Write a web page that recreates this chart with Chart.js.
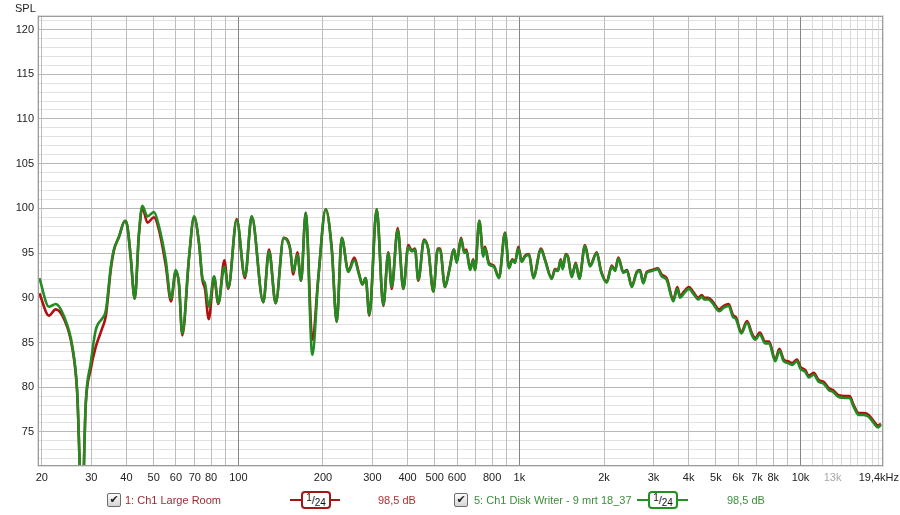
<!DOCTYPE html>
<html>
<head>
<meta charset="utf-8">
<title>SPL</title>
<script src="https://cdn.jsdelivr.net/npm/chart.js@4.4.1/dist/chart.umd.min.js"></script>
<style>
  html, body { margin: 0; padding: 0; background: #fff; }
  #wrap { position: relative; width: 900px; height: 515px; font-family: 'Liberation Sans', Arial, sans-serif; font-size: 11px; color: #222; }
  #chart { position: absolute; left: 0; top: 0; }
  .t { position: absolute; white-space: nowrap; line-height: 13px; }
  .chk { position: absolute; width: 12px; height: 12px; border: 1px solid #6d6d6d; border-radius: 2px;
         background: linear-gradient(#fdfdfd, #d4d4d4); font: bold 11px 'DejaVu Sans', sans-serif;
         line-height: 12px; text-align: center; color: #222; }
  .sym { position: absolute; height: 18px; }
  .sym .ln { position: absolute; left: 0; right: 0; top: 8px; height: 2px; }
  .sym .bx { position: absolute; top: 0; left: 11px; width: 26px; height: 14px; border: 2px solid; border-radius: 4px;
             background: #fff; color: #111; font-size: 11px; line-height: 14px; text-align: center; }
  .sym .bx span { position: relative; font-size: 10px; }
</style>
</head>
<body>
<div id="wrap">
  <canvas id="chart" width="900" height="515"></canvas>
  <div class="t" style="left:15px; top:2px;">SPL</div>

  <div class="chk" style="left:107px; top:493px;">✔</div>
  <div class="t" style="left:125px; top:494px; color:#a02a36;">1: Ch1 Large Room</div>
  <div class="sym" style="left:290px; top:491px; width:50px;">
    <div class="ln" style="background:#a01818;"></div>
    <div class="bx" style="border-color:#a01818;"><span style="top:-3px">1</span>/<span style="top:2px">24</span></div>
  </div>
  <div class="t" style="left:378px; top:494px; color:#b03030;">98,5 dB</div>

  <div class="chk" style="left:454px; top:493px;">✔</div>
  <div class="t" style="left:474px; top:494px; color:#3b8f3b;">5: Ch1 Disk Writer - 9 mrt 18_37</div>
  <div class="sym" style="left:637px; top:491px; width:51px;">
    <div class="ln" style="background:#239023;"></div>
    <div class="bx" style="border-color:#239023;"><span style="top:-3px">1</span>/<span style="top:2px">24</span></div>
  </div>
  <div class="t" style="left:727px; top:494px; color:#3b8f3b;">98,5 dB</div>
</div>

<script>
// frequency points (Hz)
const freqHz = [19.6, 21.2, 22.4, 24.0, 25.7, 26.7, 27.8, 28.65, 29.85, 31.1, 32.8, 33.8, 35.2, 36.1, 37.6, 39.5,
  40.3, 41.4, 42.8, 44.3, 45.55, 47.5, 50.1, 52.2, 55.2, 57.6, 59.9, 61.5, 63.2, 66.8, 69.6, 72.5, 74.5, 76.1, 78.5,
  82.0, 84.9, 89.2, 92.1, 98.7, 105.6, 111.6, 122.7, 128.6, 135.8, 145.0, 152.7, 156.9, 162.2, 167.2, 173.7, 183.4,
  192.6, 204.6, 214.9, 223.9, 233.3, 246.2, 258.6, 268.8, 276.1, 283.9, 292.4, 310.7, 328, 341.7, 351.3, 369, 386.4,
  402.5, 413.9, 425.2, 436.8, 457.7, 474.1, 494, 512.2, 521.9, 543.7, 561.8, 585.3, 598.4, 619.8, 636.8, 648, 667.3,
  685.5, 695, 720, 743.9, 754.3, 779.5, 810, 846.3, 888.8, 918.3, 943.6, 964.7, 991.1, 1019, 1047, 1082, 1121, 1194,
  1233, 1303, 1339, 1372, 1403, 1426, 1461, 1489, 1535, 1586, 1634, 1711, 1783, 1884, 1952, 2045, 2131, 2189, 2249,
  2342, 2414, 2509, 2614, 2685, 2759, 2837, 2963, 3105, 3208, 3342, 3528, 3645, 3727, 3851, 4012, 4146, 4329, 4452,
  4555, 4699, 4864, 5142, 5332, 5555, 5740, 5898, 6159, 6453, 6722, 6906, 7160, 7497, 7727, 8135, 8408, 8715, 9026,
  9329, 9719, 9985, 10400, 10700, 11140, 11610, 12090, 12600, 13020, 13670, 14430, 14940, 15460, 16110, 16780, 17480,
  18210, 18870, 19330];

// 1: Ch1 Large Room (red)
const largeRoomDb = [90.5, 88.0, 88.7, 87.6, 84.3, 79.5, 66, 78.0, 82.0, 84.5, 86.6, 88.0, 93.2, 95.3, 96.8, 98.6,
  98.0, 94.6, 89.9, 97.0, 100.1, 98.4, 99.0, 97.6, 93.6, 89.6, 92.9, 91.5, 85.8, 94.5, 99.0, 96.0, 92.0, 91.0, 87.6,
  92.3, 89.3, 94.2, 91.0, 98.8, 92.2, 99.1, 89.5, 95.4, 89.4, 96.7, 95.6, 92.6, 95.1, 91.9, 99.5, 85.3,
  92.3, 99.9, 95.6, 87.3, 96.7, 93.0, 94.5, 92.7, 91.5, 92.2, 88.0, 99.9, 89.1, 95.1, 91.0, 97.8, 91.0,
  95.9, 95.3, 95.5, 91.9, 96.5, 95.4, 90.7, 95.5, 95.5, 91.2, 93.0, 95.4, 94.0, 96.7, 95.1, 95.4, 93.2,
  94.3, 93.1, 98.6, 94.8, 95.7, 93.9, 93.6, 92.3, 97.3, 93.4, 94.3, 94.0, 95.7, 94.1, 94.7, 94.9, 92.3, 95.5,
  94.3, 92.2, 93.2, 93.1, 94.3, 93.3, 94.9, 94.6, 92.4, 93.9, 92.2, 95.9, 93.6, 95.1, 93.0, 91.8, 93.6, 93.1, 94.5,
  92.9, 93.1, 91.3, 92.9, 93.1, 91.7, 92.9, 93.1, 93.3, 92.6, 92.2, 89.8, 91.2, 90.2, 90.7, 91.2, 90.7, 90.0, 90.3,
  90.0, 90.0, 89.6, 88.7, 89.1, 89.3, 88.1, 87.8, 86.2, 87.4, 86.0, 85.5, 86.1, 85.1, 85.1, 83.1, 84.3, 83.1, 82.9,
  82.7, 83.1, 82.3, 81.9, 81.3, 81.6, 80.8, 80.6, 79.9, 79.7, 79.1, 79.0, 79.0, 78.0, 77.1, 77.1, 76.9,
  76.2, 75.7, 75.9];

// 5: Ch1 Disk Writer - 9 mrt 18_37 (green)
const diskWriterDb = [92.2, 89.0, 89.3, 87.9, 84.5, 79.7, 66, 78.2, 82.7, 86.4, 87.7, 88.6, 93.5, 95.4, 96.8, 98.6,
  98.0, 94.6, 89.9, 97.2, 100.3, 99.1, 99.6, 98.0, 94.2, 89.9, 93.1, 91.6, 86.0, 94.6, 99.1, 96.1, 92.2, 91.6, 89.0,
  92.4, 89.4, 93.5, 91.1, 98.7, 92.4, 99.1, 89.5, 95.2, 89.4, 96.7, 95.5, 92.9, 94.8, 91.9, 99.5, 83.6,
  92.2, 99.9, 95.4, 87.3, 96.7, 92.9, 94.2, 92.6, 91.5, 92.2, 88.1, 99.9, 89.2, 95.0, 91.2, 97.6, 91.0,
  95.7, 95.2, 95.4, 92.0, 96.4, 95.4, 90.7, 95.4, 95.4, 91.2, 92.9, 95.4, 93.9, 96.6, 95.0, 95.2, 93.1,
  94.2, 93.1, 98.6, 94.6, 95.5, 93.7, 93.5, 92.2, 97.2, 93.3, 94.2, 93.9, 95.5, 94.0, 94.6, 94.8, 92.2, 95.4,
  94.2, 92.1, 93.1, 93.0, 94.2, 93.2, 94.8, 94.5, 92.3, 93.8, 92.1, 95.8, 93.5, 95.0, 92.9, 91.7, 93.5, 93.0, 94.4,
  92.8, 93.0, 91.2, 92.8, 93.0, 91.6, 92.8, 93.0, 93.2, 92.4, 92.0, 89.6, 91.0, 90.0, 90.5, 91.0, 90.5, 89.8, 90.1,
  89.8, 89.8, 89.4, 88.5, 88.9, 89.1, 87.9, 87.6, 86.0, 87.2, 85.8, 85.3, 85.9, 84.9, 84.9, 82.9, 84.1, 82.9, 82.7,
  82.5, 82.9, 82.1, 81.7, 81.1, 81.4, 80.6, 80.4, 79.7, 79.5, 78.9, 78.8, 78.8, 77.8, 76.9, 76.9, 76.7,
  76.0, 75.5, 75.8];

// x grid positions and their labels ('' = grid line only)
const xTickValues = [20, 30, 40, 50, 60, 70, 80, 90, 100, 200, 300, 400, 500, 600, 700, 800, 900,
  1000, 2000, 3000, 4000, 5000, 6000, 7000, 8000, 9000, 10000,
  11000, 12000, 13000, 14000, 15000, 16000, 17000, 18000, 19000];
const xTickLabels = ['20', '30', '40', '50', '60', '70', '80', '', '100', '200', '300', '400', '500', '600', '', '800', '',
  '1k', '2k', '3k', '4k', '5k', '6k', '7k', '8k', '', '10k',
  '', '', '13k', '', '', '', '', '', '19,4kHz'];
const yTickLabels = [75, 80, 85, 90, 95, 100, 105, 110, 115, 120];

const FONT = { family: "'Liberation Sans', Arial, sans-serif", size: 11 };

function toPoints(ys) {
  return freqHz.map((f, i) => ({ x: f, y: ys[i] }));
}

// grey frame round the plot, like the REW window
const plotFrame = {
  id: 'plotFrame',
  afterDraw(chart) {
    const { ctx, chartArea: a } = chart;
    ctx.save();
    ctx.strokeStyle = '#dedede';
    ctx.lineWidth = 1;
    ctx.strokeRect(a.left - 1.5, a.top - 1.5, a.right - a.left + 3, a.bottom - a.top + 3);
    ctx.strokeStyle = '#9c9c9c';
    ctx.strokeRect(a.left - 0.5, a.top - 0.5, a.right - a.left + 1, a.bottom - a.top + 1);
    ctx.restore();
  }
};

const ctx = document.getElementById('chart').getContext('2d');
new Chart(ctx, {
  type: 'line',
  data: {
    datasets: [
      {
        label: '5: Ch1 Disk Writer - 9 mrt 18_37',
        data: toPoints(diskWriterDb),
        borderColor: '#228b22',
        borderWidth: 2.6,
        pointRadius: 0,
        cubicInterpolationMode: 'monotone',
        clip: 0
      },
      {
        label: '1: Ch1 Large Room',
        data: toPoints(largeRoomDb),
        borderColor: '#b01010',
        borderWidth: 2.6,
        pointRadius: 0,
        cubicInterpolationMode: 'monotone',
        clip: 0
      }
    ]
  },
  options: {
    responsive: false,
    animation: false,
    devicePixelRatio: 1,
    layout: { padding: { top: 17, right: 18, left: 0, bottom: 0 } },
    plugins: { legend: { display: false }, tooltip: { enabled: false } },
    scales: {
      x: {
        type: 'logarithmic',
        min: 19.54,
        max: 19495,
        afterBuildTicks: s => { s.ticks = xTickValues.map(v => ({ value: v })); },
        afterFit: s => { s.height = 50; s.paddingLeft = 0; s.paddingRight = 0; },
        border: { display: false },
        grid: {
          z: -1,
          drawTicks: false,
          color: c => {
            const v = c.tick && c.tick.value;
            if (v === 100 || v === 1000 || v === 10000) return '#858585';
            if (v > 10000) return '#dadada';
            return '#bdbdbd';
          }
        },
        ticks: {
          autoSkip: false,
          maxRotation: 0,
          padding: 6,
          font: FONT,
          color: c => (c.tick && c.tick.value === 13000) ? '#a8a8a8' : '#222',
          callback: (v, i) => xTickLabels[i]
        }
      },
      y: {
        type: 'linear',
        min: 71.3,
        max: 121.4,
        afterBuildTicks: s => {
          const t = [];
          for (let v = 72; v <= 121; v++) t.push({ value: v });
          s.ticks = t;
        },
        afterFit: s => { s.width = 39; },
        border: { display: false },
        grid: {
          z: -2,
          drawTicks: false,
          color: c => (c.tick && c.tick.value % 5 === 0) ? '#b8b8b8' : '#e1e1e1'
        },
        ticks: {
          autoSkip: false,
          padding: 5,
          font: FONT,
          color: '#222',
          callback: v => yTickLabels.includes(v) ? String(v) : ''
        }
      }
    }
  },
  plugins: [plotFrame]
});
</script>
</body>
</html>
